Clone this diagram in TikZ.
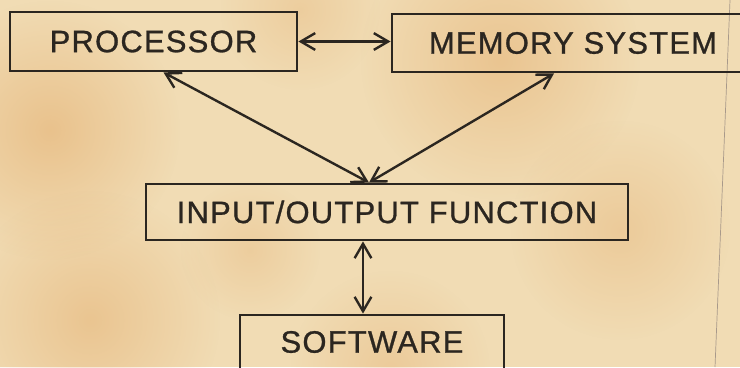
\documentclass[tikz,border=0pt]{standalone}
\usepackage{fontspec}
\setmainfont{Liberation Sans}
\usetikzlibrary{positioning,calc,arrows.meta,fadings}
\definecolor{PaperTone}{HTML}{F1DCB4}
\definecolor{PaperStain}{HTML}{E0A25C}
\definecolor{InkDark}{HTML}{2B2620}
\definecolor{FoldGray}{HTML}{A8998A}
\tikzfading[name=softspot, inner color=transparent!0, outer color=transparent!100]

\begin{document}
\begin{tikzpicture}[
    x=0.025cm, y=-0.025cm,
    box/.style={draw=InkDark, line width=2pt, inner sep=0pt, text=InkDark,
      font=\fontsize{22}{24}\selectfont\addfontfeatures{LetterSpace=4,FakeBold=0.9}},
    arrow/.style={{Straight Barb[length=0.36cm,width=0.42cm]}-{Straight Barb[length=0.36cm,width=0.42cm]},
      line width=1.7pt, draw=InkDark},
    stain/.style={fill=PaperStain, path fading=softspot}
  ]
    % paper and its stains
    \clip (0,0) rectangle (740,367);
    \fill[PaperTone] (0,0) rectangle (740,367);
    \fill[stain, fill opacity=0.45] (50,130) circle (130);
    \fill[stain, fill opacity=0.40] (500,60) circle (140);
    \fill[stain, fill opacity=0.30] (620,230) circle (110);
    \fill[stain, fill opacity=0.40] (90,320) circle (130);
    \fill[stain, fill opacity=0.30] (390,370) circle (100);
    \fill[stain, fill opacity=0.25] (300,10) circle (80);
    \fill[stain, fill opacity=0.25] (250,250) circle (70);
    \draw[FoldGray, line width=0.5pt] (730,0) -- (715,367);

    \node[box, minimum width=7.175cm, minimum height=1.475cm] (proc) at (153.5,41.5) {PROCESSOR};
    \node[box, minimum width=9.05cm, minimum height=1.45cm] (mem) at (573,43) {MEMORY SYSTEM};
    \node[box, minimum width=12.05cm, minimum height=1.4cm] (io) at (387,212) {INPUT/OUTPUT FUNCTION};
    \node[box, minimum width=6.6cm, minimum height=1.35cm] (soft) at (372,342) {SOFTWARE};

    \coordinate (apex) at ([xshift=-0.45cm]io.north);
    \coordinate (iolink) at ([xshift=-0.6cm]io.south);

    \draw[arrow] (proc.east) -- (proc.east -| mem.west);
    \draw[arrow] ([xshift=0.25cm]proc.south) -- (apex);
    \draw[arrow] ([xshift=-0.475cm]mem.south) -- (apex);
    \draw[arrow] (iolink) -- (iolink |- soft.north);
  \end{tikzpicture}
\end{document}
